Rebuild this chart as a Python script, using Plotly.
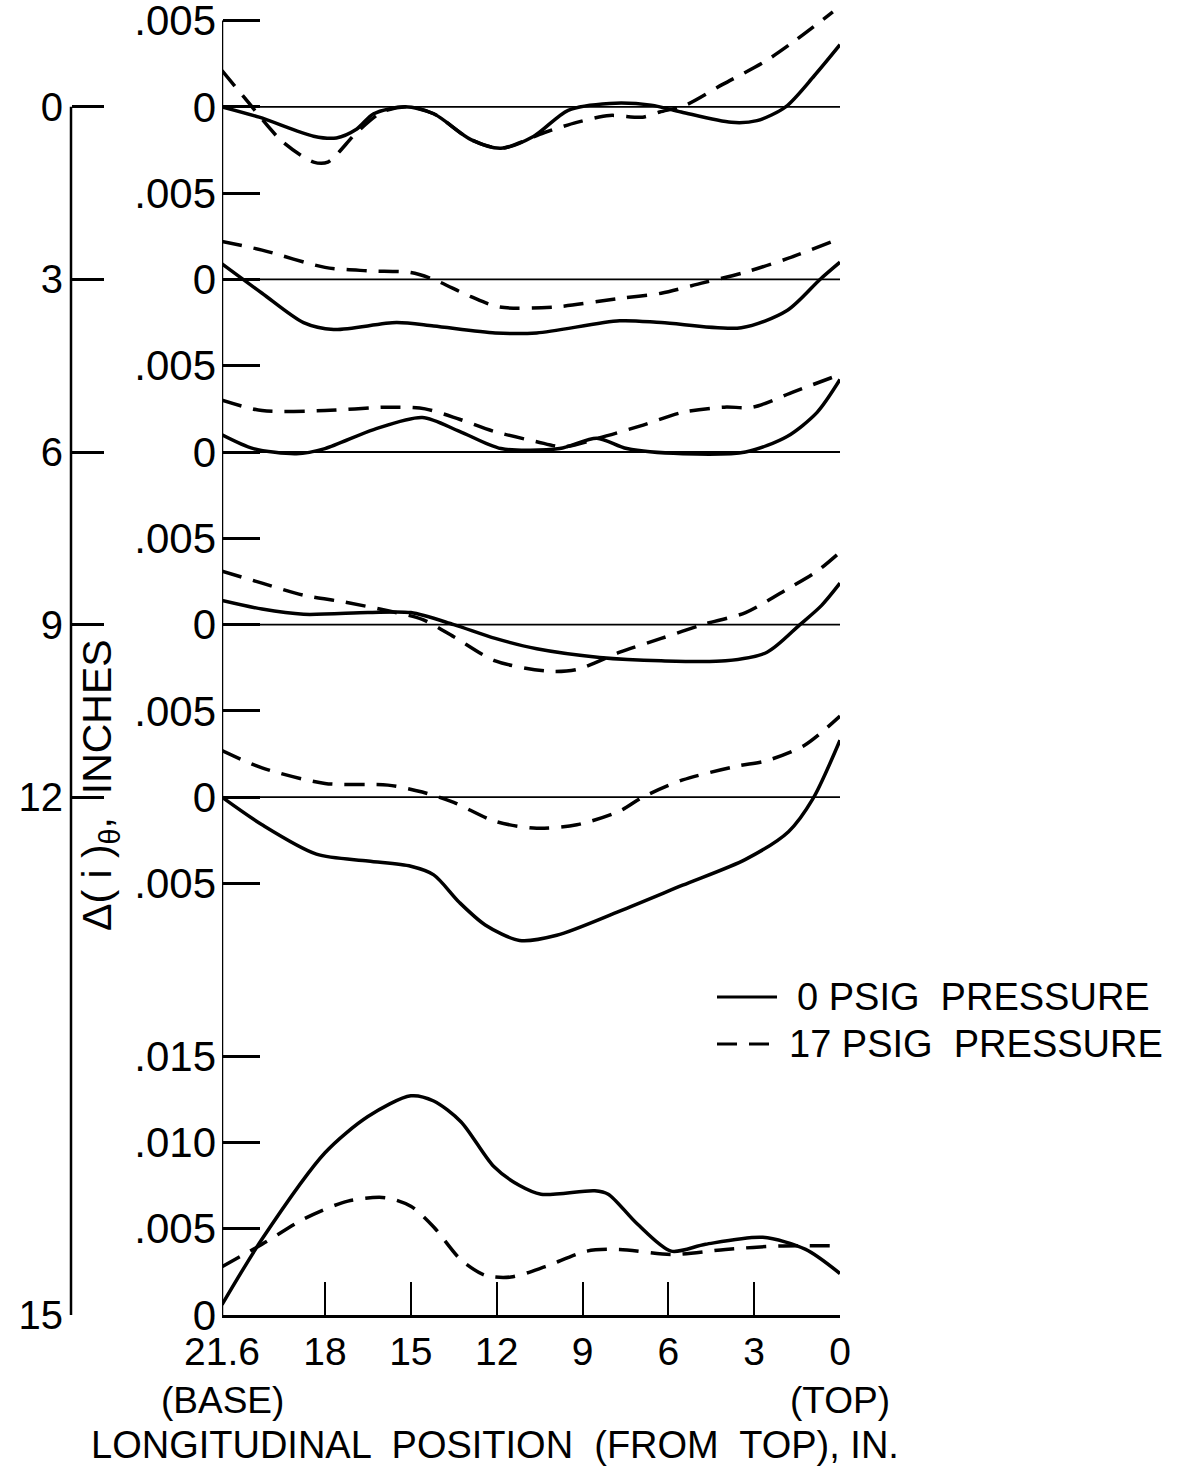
import plotly.graph_objects as go

# ---------------- data (deviation in inches vs longitudinal position, in.) ----------------
panel_labels = ["0", "3", "6", "9", "12", "15"]

solid_x0 = [21.6, 20.3, 18.4, 17.6, 16.9, 16.3, 15.2, 14.2, 12.9, 11.85, 10.7, 9.5, 8.05, 6.6, 5.55, 3.8, 2.9, 1.9, 0.9, 0]
solid_y0 = [0.0, -0.0006, -0.0017, -0.0018, -0.0013, -0.0004, 0.0, -0.0004, -0.0019, -0.0024, -0.0017, -0.0002, 0.0002, 0.0001, -0.0003, -0.0009, -0.0008, 0.0, 0.0018, 0.0036]
dash_x0 = [21.6, 20.8, 19.5, 18.4, 17.9, 16.9, 16.0, 15.1, 14.2, 12.9, 11.85, 10.35, 9.2, 8.05, 6.9, 6.3, 5.4, 4.1, 2.65, 1.6, 0.25]
dash_y0 = [0.0021, 0.0005, -0.002, -0.0032, -0.0032, -0.0015, -0.0003, 0.0, -0.0004, -0.0019, -0.0024, -0.0015, -0.0009, -0.0005, -0.0006, -0.0003, 0.0001, 0.0013, 0.0026, 0.0038, 0.0055]

solid_x1 = [21.6, 20.2, 18.75, 17.7, 15.5, 14.2, 12.05, 10.6, 7.7, 6.25, 3.45, 1.85, 0.7, 0]
solid_y1 = [0.0009, -0.0008, -0.0025, -0.0029, -0.0025, -0.0027, -0.0031, -0.0031, -0.0024, -0.0025, -0.0028, -0.0018, 0.0, 0.001]
dash_x1 = [21.6, 20.2, 18.0, 16.5, 15.0, 14.2, 12.9, 11.9, 10.0, 7.7, 6.25, 4.8, 3.35, 1.85, 0.1]
dash_y1 = [0.0022, 0.0017, 0.0007, 0.0005, 0.0004, 0.0, -0.001, -0.0016, -0.0016, -0.0011, -0.0008, -0.0002, 0.0004, 0.0012, 0.0023]

solid_x2 = [21.6, 20.5, 19.0, 18.0, 16.3, 14.6, 13.3, 11.85, 9.8, 8.5, 7.45, 5.5, 3.3, 1.85, 0.8, 0]
solid_y2 = [0.001, 0.0002, -0.0001, 0.0002, 0.0013, 0.002, 0.0012, 0.0002, 0.0002, 0.0008, 0.0002, -0.0001, 0.0, 0.0009, 0.0023, 0.0042]
dash_x2 = [21.6, 20.2, 18.0, 15.8, 14.5, 13.3, 12.1, 10.6, 9.65, 8.45, 7.0, 5.5, 4.05, 3.05, 1.6, 0.15]
dash_y2 = [0.003, 0.0024, 0.0024, 0.0026, 0.0025, 0.0019, 0.0012, 0.0006, 0.0003, 0.0008, 0.0015, 0.0023, 0.0026, 0.0026, 0.0035, 0.0044]

solid_x3 = [21.6, 20.2, 18.75, 16.5, 15.0, 13.5, 12.05, 10.6, 8.4, 6.25, 4.0, 2.55, 1.4, 0.65, 0]
solid_y3 = [0.0014, 0.0009, 0.0006, 0.0007, 0.0007, 0.0, -0.0008, -0.0014, -0.0019, -0.0021, -0.0021, -0.0016, 0.0, 0.0011, 0.0024]
dash_x3 = [21.6, 20.2, 18.75, 17.3, 15.8, 14.6, 13.5, 12.05, 10.2, 9.2, 7.7, 6.25, 4.8, 3.3, 1.8, 0.8, 0]
dash_y3 = [0.0031, 0.0024, 0.0017, 0.0013, 0.0008, 0.0003, -0.0007, -0.0021, -0.0027, -0.0026, -0.0016, -0.0008, 0.0, 0.0007, 0.0021, 0.0031, 0.0042]

solid_x4 = [21.6, 20.2, 18.3, 16.5, 15.0, 14.2, 13.3, 12.4, 11.2, 9.9, 7.7, 5.5, 3.3, 1.8, 0.95, 0]
solid_y4 = [0.0, -0.0016, -0.0033, -0.0037, -0.004, -0.0045, -0.0061, -0.0074, -0.0083, -0.008, -0.0066, -0.0051, -0.0036, -0.002, -0.0001, 0.0033]
dash_x4 = [21.6, 20.2, 18.0, 15.8, 14.6, 13.5, 12.05, 10.6, 9.2, 7.7, 6.9, 5.5, 3.6, 2.6, 1.25, 0]
dash_y4 = [0.0027, 0.0017, 0.0008, 0.0007, 0.0003, -0.0003, -0.0014, -0.0018, -0.0016, -0.0008, 0.0, 0.001, 0.0018, 0.0021, 0.003, 0.0047]

solid_x5 = [21.6, 20.2, 18.0, 16.5, 15.0, 14.2, 13.25, 12.1, 11.2, 10.45, 8.57, 8.1, 7.1, 5.9, 4.7, 2.7, 1.2, 0]
solid_y5 = [0.0006, 0.0044, 0.0094, 0.0115, 0.0127, 0.0124, 0.0112, 0.0086, 0.0075, 0.007, 0.0072, 0.007, 0.0053, 0.0037, 0.0041, 0.0045, 0.0038, 0.0024]
dash_x5 = [21.6, 20.2, 18.7, 17.2, 15.9, 15.0, 14.2, 13.25, 12.4, 11.5, 10.3, 8.85, 7.7, 5.9, 4.0, 2.1, 0]
dash_y5 = [0.0028, 0.0041, 0.0056, 0.0066, 0.0068, 0.0063, 0.0051, 0.0032, 0.0023, 0.0022, 0.0028, 0.0037, 0.0038, 0.0035, 0.0038, 0.004, 0.004]

x_tick_vals = [21.6, 18, 15, 12, 9, 6, 3, 0]
x_tick_text = ["21.6", "18", "15", "12", "9", "6", "3", "0"]
legend_labels = ["0 PSIG  PRESSURE", "17 PSIG  PRESSURE"]

# ---------------- layout constants ----------------
panel_offsets = [0.0, -0.010, -0.020, -0.030, -0.040, -0.070]
inner_tick_vals = [0.005, 0.0, -0.005, -0.010, -0.015, -0.020, -0.025, -0.030, -0.035, -0.040, -0.045,
                   -0.055, -0.060, -0.065, -0.070]
inner_tick_text = [".005", "0", ".005", "0", ".005", "0", ".005", "0", ".005", "0", ".005",
                   ".015", ".010", ".005", "0"]

FONT = "Liberation Sans"
W, H = 1177, 1476
ML, MR, MT, MB = 71, 337, 5, 161
plot_w = W - ML - MR
plot_h = H - MT - MB
x_dom0 = (222 - ML) / plot_w
Y_RANGE = [-0.070, 0.0059]
DASH = "20px,12px"


def py(ypx):
    return (H - MB - ypx) / plot_h


def px(xpx):
    return (xpx - ML) / plot_w


solids = [(solid_x0, solid_y0), (solid_x1, solid_y1), (solid_x2, solid_y2),
          (solid_x3, solid_y3), (solid_x4, solid_y4), (solid_x5, solid_y5)]
dashes = [(dash_x0, dash_y0), (dash_x1, dash_y1), (dash_x2, dash_y2),
          (dash_x3, dash_y3), (dash_x4, dash_y4), (dash_x5, dash_y5)]

fig = go.Figure()

# zero reference lines of the upper panels (on the outer axis, which shares the range)
for off in panel_offsets[:5]:
    fig.add_trace(go.Scatter(
        x=[x_tick_vals[0], x_tick_vals[-1]], y=[off, off], mode="lines", yaxis="y2",
        line=dict(color="black", width=1.8), showlegend=False, hoverinfo="skip",
    ))

for i, ((sx, sy), (dx, dy)) in enumerate(zip(solids, dashes)):
    off = panel_offsets[i]
    fig.add_trace(go.Scatter(
        x=sx, y=[v + off for v in sy], mode="lines",
        line=dict(color="black", width=3.5, shape="spline", smoothing=0.8),
        name=legend_labels[0], showlegend=False,
    ))
    fig.add_trace(go.Scatter(
        x=dx, y=[v + off for v in dy], mode="lines",
        line=dict(color="black", width=3.5, shape="spline", smoothing=0.8, dash=DASH),
        name=legend_labels[1], showlegend=False,
    ))

shapes = [
    # inner axis line
    dict(type="line", xref="x", yref="y", x0=21.6, x1=21.6, y0=-0.070, y1=0.005,
         line=dict(color="black", width=2.5)),
    # outer axis line
    dict(type="line", xref="paper", yref="y", x0=0, x1=0, y0=-0.070, y1=0.0,
         line=dict(color="black", width=2.5)),
    # legend keys
    dict(type="line", xref="paper", yref="paper", x0=px(717), x1=px(777), y0=py(997), y1=py(997),
         line=dict(color="black", width=3)),
    dict(type="line", xref="paper", yref="paper", x0=px(717), x1=px(777), y0=py(1044), y1=py(1044),
         line=dict(color="black", width=3, dash=DASH)),
]

annotations = [
    dict(text=legend_labels[0], x=px(795), xref="paper", y=py(997), yref="paper", showarrow=False,
         font=dict(size=38, color="black", family=FONT), xanchor="left", yanchor="middle"),
    dict(text=legend_labels[1], x=px(787), xref="paper", y=py(1044), yref="paper", showarrow=False,
         font=dict(size=38, color="black", family=FONT), xanchor="left", yanchor="middle"),
    dict(text="(BASE)", x=21.6, xref="x", y=py(1400), yref="paper", showarrow=False,
         font=dict(size=37, color="black", family=FONT), xanchor="center", yanchor="middle"),
    dict(text="(TOP)", x=0, xref="x", y=py(1400), yref="paper", showarrow=False,
         font=dict(size=37, color="black", family=FONT), xanchor="center", yanchor="middle"),
    dict(text="LONGITUDINAL  POSITION  (FROM  TOP), IN.", x=px(495), xref="paper", y=py(1445),
         yref="paper", showarrow=False,
         font=dict(size=38, color="black", family=FONT), xanchor="center", yanchor="middle"),
    dict(text="\u0394(\u00a0i\u00a0)<sub>\u03b8</sub>,\u00a0\u00a0INCHES", x=px(100), xref="paper",
         y=py(785), yref="paper", showarrow=False, textangle=-90,
         font=dict(size=41, color="black", family=FONT), xanchor="center", yanchor="middle"),
]

fig.update_layout(
    width=W, height=H,
    margin=dict(l=ML, r=MR, t=MT, b=MB, pad=0, autoexpand=False),
    paper_bgcolor="white", plot_bgcolor="white",
    font=dict(family=FONT, color="black"),
    shapes=shapes, annotations=annotations,
    showlegend=False,
    xaxis=dict(domain=[x_dom0, 1], range=[21.6, 0], anchor="y", automargin=False,
               showline=True, linecolor="black", linewidth=2.5,
               ticks="inside", ticklen=33, tickwidth=2, tickcolor="black",
               tickvals=x_tick_vals, ticktext=x_tick_text, ticklabeloverflow="allow",
               tickfont=dict(size=39, family=FONT, color="black"),
               showgrid=False, zeroline=False),
    yaxis=dict(domain=[0, 1], range=Y_RANGE, anchor="free", position=x_dom0, automargin=False,
               showline=False, ticks="inside", ticklen=37, tickwidth=2.5, tickcolor="black",
               tickvals=inner_tick_vals, ticktext=inner_tick_text,
               ticklabeloverflow="allow", ticklabelstandoff=6,
               tickfont=dict(size=42, family=FONT, color="black"),
               showgrid=False, zeroline=False),
    yaxis2=dict(domain=[0, 1], range=Y_RANGE, overlaying="y", anchor="free", position=0,
                automargin=False,
                side="left", showline=False, ticks="inside", ticklen=32, tickwidth=2.5,
                tickcolor="black", tickvals=panel_offsets, ticktext=panel_labels,
                ticklabeloverflow="allow", ticklabelstandoff=8,
                tickfont=dict(size=40, family=FONT, color="black"),
                showgrid=False, zeroline=False),
)

fig.write_html("out.html")
